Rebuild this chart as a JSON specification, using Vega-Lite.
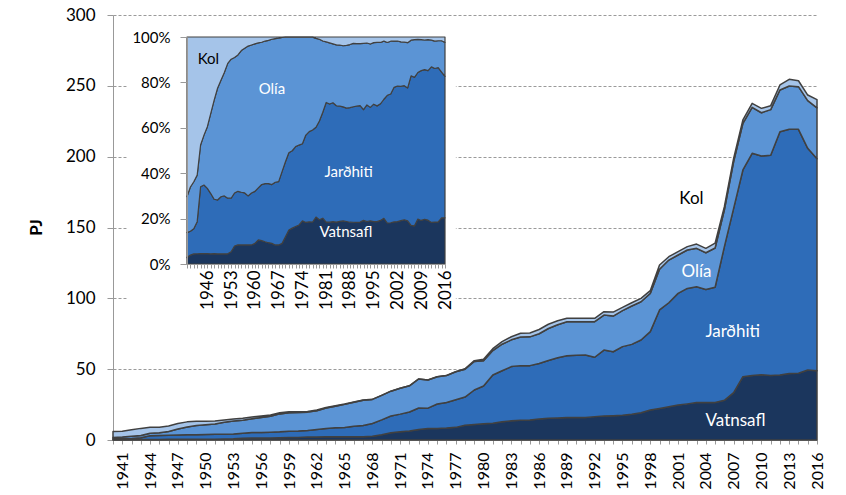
{
  "$schema": "https://vega.github.io/schema/vega-lite/v6.json",
  "width": 704,
  "height": 425,
  "autosize": {"type": "none"},
  "padding": {"left": 113, "top": 15, "right": 29, "bottom": 55},
  "background": "white",
  "config": {
    "view": {"stroke": null},
    "font": "Lato",
    "text": {"font": "Lato"},
    "axis": {"labelFont": "Lato", "titleFont": "Lato", "labelColor": "#000000", "titleColor": "#000000"}
  },
  "datasets": {
    "energy": [
      {"year":1940,"source":"Vatnsafl","pj":0.17},{"year":1940,"source":"Jarðhiti","pj":0.66},{"year":1940,"source":"Olía","pj":0.95},{"year":1940,"source":"Kol","pj":4.22},
      {"year":1941,"source":"Vatnsafl","pj":0.24},{"year":1941,"source":"Jarðhiti","pj":0.64},{"year":1941,"source":"Olía","pj":1.19},{"year":1941,"source":"Kol","pj":4.03},
      {"year":1942,"source":"Vatnsafl","pj":0.32},{"year":1942,"source":"Jarðhiti","pj":0.80},{"year":1942,"source":"Olía","pj":1.49},{"year":1942,"source":"Kol","pj":4.59},
      {"year":1943,"source":"Vatnsafl","pj":0.37},{"year":1943,"source":"Jarðhiti","pj":1.16},{"year":1943,"source":"Olía","pj":1.68},{"year":1943,"source":"Kol","pj":4.99},
      {"year":1944,"source":"Vatnsafl","pj":0.41},{"year":1944,"source":"Jarðhiti","pj":2.65},{"year":1944,"source":"Olía","pj":1.66},{"year":1944,"source":"Kol","pj":4.28},
      {"year":1945,"source":"Vatnsafl","pj":0.41},{"year":1945,"source":"Jarðhiti","pj":2.72},{"year":1945,"source":"Olía","pj":1.98},{"year":1945,"source":"Kol","pj":3.89},
      {"year":1946,"source":"Vatnsafl","pj":0.45},{"year":1946,"source":"Jarðhiti","pj":2.85},{"year":1946,"source":"Olía","pj":2.69},{"year":1946,"source":"Kol","pj":3.91},
      {"year":1947,"source":"Vatnsafl","pj":0.52},{"year":1947,"source":"Jarðhiti","pj":3.08},{"year":1947,"source":"Olía","pj":4.10},{"year":1947,"source":"Kol","pj":3.90},
      {"year":1948,"source":"Vatnsafl","pj":0.58},{"year":1948,"source":"Jarðhiti","pj":3.07},{"year":1948,"source":"Olía","pj":5.59},{"year":1948,"source":"Kol","pj":3.56},
      {"year":1949,"source":"Vatnsafl","pj":0.59},{"year":1949,"source":"Jarðhiti","pj":3.13},{"year":1949,"source":"Olía","pj":6.50},{"year":1949,"source":"Kol","pj":2.98},
      {"year":1950,"source":"Vatnsafl","pj":0.59},{"year":1950,"source":"Jarðhiti","pj":3.32},{"year":1950,"source":"Olía","pj":6.78},{"year":1950,"source":"Kol","pj":2.51},
      {"year":1951,"source":"Vatnsafl","pj":0.60},{"year":1951,"source":"Jarðhiti","pj":3.42},{"year":1951,"source":"Olía","pj":7.28},{"year":1951,"source":"Kol","pj":2.10},
      {"year":1952,"source":"Vatnsafl","pj":0.63},{"year":1952,"source":"Jarðhiti","pj":3.46},{"year":1952,"source":"Olía","pj":8.37},{"year":1952,"source":"Kol","pj":1.64},
      {"year":1953,"source":"Vatnsafl","pj":0.80},{"year":1953,"source":"Jarðhiti","pj":3.49},{"year":1953,"source":"Olía","pj":9.06},{"year":1953,"source":"Kol","pj":1.45},
      {"year":1954,"source":"Vatnsafl","pj":1.22},{"year":1954,"source":"Jarðhiti","pj":3.60},{"year":1954,"source":"Olía","pj":9.19},{"year":1954,"source":"Kol","pj":1.39},
      {"year":1955,"source":"Vatnsafl","pj":1.37},{"year":1955,"source":"Jarðhiti","pj":3.85},{"year":1955,"source":"Olía","pj":9.79},{"year":1955,"source":"Kol","pj":1.29},
      {"year":1956,"source":"Vatnsafl","pj":1.42},{"year":1956,"source":"Jarðhiti","pj":3.92},{"year":1956,"source":"Olía","pj":10.55},{"year":1956,"source":"Kol","pj":1.01},
      {"year":1957,"source":"Vatnsafl","pj":1.48},{"year":1957,"source":"Jarðhiti","pj":4.03},{"year":1957,"source":"Olía","pj":11.21},{"year":1957,"source":"Kol","pj":0.88},
      {"year":1958,"source":"Vatnsafl","pj":1.61},{"year":1958,"source":"Jarðhiti","pj":4.15},{"year":1958,"source":"Olía","pj":12.67},{"year":1958,"source":"Kol","pj":0.77},
      {"year":1959,"source":"Vatnsafl","pj":1.68},{"year":1959,"source":"Jarðhiti","pj":4.58},{"year":1959,"source":"Olía","pj":13.04},{"year":1959,"source":"Kol","pj":0.70},
      {"year":1960,"source":"Vatnsafl","pj":1.82},{"year":1960,"source":"Jarðhiti","pj":4.58},{"year":1960,"source":"Olía","pj":13.00},{"year":1960,"source":"Kol","pj":0.60},
      {"year":1961,"source":"Vatnsafl","pj":2.14},{"year":1961,"source":"Jarðhiti","pj":4.63},{"year":1961,"source":"Olía","pj":12.90},{"year":1961,"source":"Kol","pj":0.53},
      {"year":1962,"source":"Vatnsafl","pj":2.18},{"year":1962,"source":"Jarðhiti","pj":5.24},{"year":1962,"source":"Olía","pj":13.29},{"year":1962,"source":"Kol","pj":0.49},
      {"year":1963,"source":"Vatnsafl","pj":2.25},{"year":1963,"source":"Jarðhiti","pj":5.89},{"year":1963,"source":"Olía","pj":14.45},{"year":1963,"source":"Kol","pj":0.41},
      {"year":1964,"source":"Vatnsafl","pj":2.27},{"year":1964,"source":"Jarðhiti","pj":6.30},{"year":1964,"source":"Olía","pj":15.27},{"year":1964,"source":"Kol","pj":0.36},
      {"year":1965,"source":"Vatnsafl","pj":2.31},{"year":1965,"source":"Jarðhiti","pj":6.58},{"year":1965,"source":"Olía","pj":16.26},{"year":1965,"source":"Kol","pj":0.25},
      {"year":1966,"source":"Vatnsafl","pj":2.25},{"year":1966,"source":"Jarðhiti","pj":7.40},{"year":1966,"source":"Olía","pj":16.96},{"year":1966,"source":"Kol","pj":0.19},
      {"year":1967,"source":"Vatnsafl","pj":2.37},{"year":1967,"source":"Jarðhiti","pj":7.87},{"year":1967,"source":"Olía","pj":17.82},{"year":1967,"source":"Kol","pj":0.14},
      {"year":1968,"source":"Vatnsafl","pj":2.61},{"year":1968,"source":"Jarðhiti","pj":9.07},{"year":1968,"source":"Olía","pj":16.96},{"year":1968,"source":"Kol","pj":0.06},
      {"year":1969,"source":"Vatnsafl","pj":3.78},{"year":1969,"source":"Jarðhiti","pj":10.40},{"year":1969,"source":"Olía","pj":17.29},{"year":1969,"source":"Kol","pj":0.03},
      {"year":1970,"source":"Vatnsafl","pj":5.18},{"year":1970,"source":"Jarðhiti","pj":11.72},{"year":1970,"source":"Olía","pj":17.57},{"year":1970,"source":"Kol","pj":0.03},
      {"year":1971,"source":"Vatnsafl","pj":5.78},{"year":1971,"source":"Jarðhiti","pj":12.48},{"year":1971,"source":"Olía","pj":18.31},{"year":1971,"source":"Kol","pj":0.03},
      {"year":1972,"source":"Vatnsafl","pj":6.32},{"year":1972,"source":"Jarðhiti","pj":13.48},{"year":1972,"source":"Olía","pj":18.47},{"year":1972,"source":"Kol","pj":0.03},
      {"year":1973,"source":"Vatnsafl","pj":7.41},{"year":1973,"source":"Jarðhiti","pj":15.17},{"year":1973,"source":"Olía","pj":20.49},{"year":1973,"source":"Kol","pj":0.03},
      {"year":1974,"source":"Vatnsafl","pj":8.06},{"year":1974,"source":"Jarðhiti","pj":14.41},{"year":1974,"source":"Olía","pj":19.90},{"year":1974,"source":"Kol","pj":0.03},
      {"year":1975,"source":"Vatnsafl","pj":8.18},{"year":1975,"source":"Jarðhiti","pj":17.21},{"year":1975,"source":"Olía","pj":19.28},{"year":1975,"source":"Kol","pj":0.03},
      {"year":1976,"source":"Vatnsafl","pj":8.46},{"year":1976,"source":"Jarðhiti","pj":18.07},{"year":1976,"source":"Olía","pj":18.94},{"year":1976,"source":"Kol","pj":0.03},
      {"year":1977,"source":"Vatnsafl","pj":8.92},{"year":1977,"source":"Jarðhiti","pj":19.52},{"year":1977,"source":"Olía","pj":19.73},{"year":1977,"source":"Kol","pj":0.03},
      {"year":1978,"source":"Vatnsafl","pj":10.4},{"year":1978,"source":"Jarðhiti","pj":19.9},{"year":1978,"source":"Olía","pj":19.7},{"year":1978,"source":"Kol","pj":0.3},
      {"year":1979,"source":"Vatnsafl","pj":10.9},{"year":1979,"source":"Jarðhiti","pj":24.4},{"year":1979,"source":"Olía","pj":20.14},{"year":1979,"source":"Kol","pj":0.56},
      {"year":1980,"source":"Vatnsafl","pj":11.5},{"year":1980,"source":"Jarðhiti","pj":26.6},{"year":1980,"source":"Olía","pj":17.9},{"year":1980,"source":"Kol","pj":1.0},
      {"year":1981,"source":"Vatnsafl","pj":11.9},{"year":1981,"source":"Jarðhiti","pj":34.0},{"year":1981,"source":"Olía","pj":17.2},{"year":1981,"source":"Kol","pj":1.4},
      {"year":1982,"source":"Vatnsafl","pj":12.8},{"year":1982,"source":"Jarðhiti","pj":36.1},{"year":1982,"source":"Olía","pj":18.7},{"year":1982,"source":"Kol","pj":1.8},
      {"year":1983,"source":"Vatnsafl","pj":13.6},{"year":1983,"source":"Jarðhiti","pj":38.2},{"year":1983,"source":"Olía","pj":18.9},{"year":1983,"source":"Kol","pj":2.2},
      {"year":1984,"source":"Vatnsafl","pj":13.9},{"year":1984,"source":"Jarðhiti","pj":38.6},{"year":1984,"source":"Olía","pj":20.2},{"year":1984,"source":"Kol","pj":2.6},
      {"year":1985,"source":"Vatnsafl","pj":14.2},{"year":1985,"source":"Jarðhiti","pj":38.3},{"year":1985,"source":"Olía","pj":20.3},{"year":1985,"source":"Kol","pj":2.7},
      {"year":1986,"source":"Vatnsafl","pj":14.8},{"year":1986,"source":"Jarðhiti","pj":39.2},{"year":1986,"source":"Olía","pj":21.0},{"year":1986,"source":"Kol","pj":3.0},
      {"year":1987,"source":"Vatnsafl","pj":15.3},{"year":1987,"source":"Jarðhiti","pj":40.8},{"year":1987,"source":"Olía","pj":22.6},{"year":1987,"source":"Kol","pj":3.0},
      {"year":1988,"source":"Vatnsafl","pj":15.5},{"year":1988,"source":"Jarðhiti","pj":42.5},{"year":1988,"source":"Olía","pj":23.4},{"year":1988,"source":"Kol","pj":2.8},
      {"year":1989,"source":"Vatnsafl","pj":15.8},{"year":1989,"source":"Jarðhiti","pj":43.7},{"year":1989,"source":"Olía","pj":24.0},{"year":1989,"source":"Kol","pj":2.4},
      {"year":1990,"source":"Vatnsafl","pj":15.8},{"year":1990,"source":"Jarðhiti","pj":44.0},{"year":1990,"source":"Olía","pj":23.7},{"year":1990,"source":"Kol","pj":2.5},
      {"year":1991,"source":"Vatnsafl","pj":15.9},{"year":1991,"source":"Jarðhiti","pj":44.1},{"year":1991,"source":"Olía","pj":23.5},{"year":1991,"source":"Kol","pj":2.5},
      {"year":1992,"source":"Vatnsafl","pj":16.5},{"year":1992,"source":"Jarðhiti","pj":41.9},{"year":1992,"source":"Olía","pj":25.1},{"year":1992,"source":"Kol","pj":2.4},
      {"year":1993,"source":"Vatnsafl","pj":16.9},{"year":1993,"source":"Jarðhiti","pj":46.6},{"year":1993,"source":"Olía","pj":24.7},{"year":1993,"source":"Kol","pj":2.4},
      {"year":1994,"source":"Vatnsafl","pj":17.2},{"year":1994,"source":"Jarðhiti","pj":45.1},{"year":1994,"source":"Olía","pj":25.2},{"year":1994,"source":"Kol","pj":2.8},
      {"year":1995,"source":"Vatnsafl","pj":17.5},{"year":1995,"source":"Jarðhiti","pj":48.4},{"year":1995,"source":"Olía","pj":25.4},{"year":1995,"source":"Kol","pj":2.3},
      {"year":1996,"source":"Vatnsafl","pj":18.1},{"year":1996,"source":"Jarðhiti","pj":49.4},{"year":1996,"source":"Olía","pj":27.1},{"year":1996,"source":"Kol","pj":2.3},
      {"year":1997,"source":"Vatnsafl","pj":19.2},{"year":1997,"source":"Jarðhiti","pj":51.4},{"year":1997,"source":"Olía","pj":27.0},{"year":1997,"source":"Kol","pj":2.4},
      {"year":1998,"source":"Vatnsafl","pj":21.2},{"year":1998,"source":"Jarðhiti","pj":55.3},{"year":1998,"source":"Olía","pj":27.0},{"year":1998,"source":"Kol","pj":1.9},
      {"year":1999,"source":"Vatnsafl","pj":22.3},{"year":1999,"source":"Jarðhiti","pj":69.5},{"year":1999,"source":"Olía","pj":28.7},{"year":1999,"source":"Kol","pj":3.0},
      {"year":2000,"source":"Vatnsafl","pj":23.5},{"year":2000,"source":"Jarðhiti","pj":73.4},{"year":2000,"source":"Olía","pj":30.1},{"year":2000,"source":"Kol","pj":2.4},
      {"year":2001,"source":"Vatnsafl","pj":24.7},{"year":2001,"source":"Jarðhiti","pj":78.8},{"year":2001,"source":"Olía","pj":27.1},{"year":2001,"source":"Kol","pj":2.4},
      {"year":2002,"source":"Vatnsafl","pj":25.5},{"year":2002,"source":"Jarðhiti","pj":81.5},{"year":2002,"source":"Olía","pj":27.1},{"year":2002,"source":"Kol","pj":2.4},
      {"year":2003,"source":"Vatnsafl","pj":26.4},{"year":2003,"source":"Jarðhiti","pj":81.8},{"year":2003,"source":"Olía","pj":27.1},{"year":2003,"source":"Kol","pj":3.0},
      {"year":2004,"source":"Vatnsafl","pj":26.4},{"year":2004,"source":"Jarðhiti","pj":79.9},{"year":2004,"source":"Olía","pj":25.9},{"year":2004,"source":"Kol","pj":3.1},
      {"year":2005,"source":"Vatnsafl","pj":26.4},{"year":2005,"source":"Jarðhiti","pj":81.4},{"year":2005,"source":"Olía","pj":27.7},{"year":2005,"source":"Kol","pj":3.5},
      {"year":2006,"source":"Vatnsafl","pj":28.0},{"year":2006,"source":"Jarðhiti","pj":108.5},{"year":2006,"source":"Olía","pj":25.9},{"year":2006,"source":"Kol","pj":2.3},
      {"year":2007,"source":"Vatnsafl","pj":33.4},{"year":2007,"source":"Jarðhiti","pj":130.1},{"year":2007,"source":"Olía","pj":33.0},{"year":2007,"source":"Kol","pj":2.3},
      {"year":2008,"source":"Vatnsafl","pj":44.7},{"year":2008,"source":"Jarðhiti","pj":145.9},{"year":2008,"source":"Olía","pj":32.9},{"year":2008,"source":"Kol","pj":2.4},
      {"year":2009,"source":"Vatnsafl","pj":45.6},{"year":2009,"source":"Jarðhiti","pj":156.8},{"year":2009,"source":"Olía","pj":32.4},{"year":2009,"source":"Kol","pj":2.8},
      {"year":2010,"source":"Vatnsafl","pj":46.1},{"year":2010,"source":"Jarðhiti","pj":154.4},{"year":2010,"source":"Olía","pj":30.5},{"year":2010,"source":"Kol","pj":3.1},
      {"year":2011,"source":"Vatnsafl","pj":45.6},{"year":2011,"source":"Jarðhiti","pj":155.4},{"year":2011,"source":"Olía","pj":32.2},{"year":2011,"source":"Kol","pj":2.8},
      {"year":2012,"source":"Vatnsafl","pj":45.9},{"year":2012,"source":"Jarðhiti","pj":171.7},{"year":2012,"source":"Olía","pj":29.5},{"year":2012,"source":"Kol","pj":3.5},
      {"year":2013,"source":"Vatnsafl","pj":47.0},{"year":2013,"source":"Jarðhiti","pj":172.3},{"year":2013,"source":"Olía","pj":30.6},{"year":2013,"source":"Kol","pj":4.7},
      {"year":2014,"source":"Vatnsafl","pj":47.1},{"year":2014,"source":"Jarðhiti","pj":172.2},{"year":2014,"source":"Olía","pj":30.1},{"year":2014,"source":"Kol","pj":4.2},
      {"year":2015,"source":"Vatnsafl","pj":49.4},{"year":2015,"source":"Jarðhiti","pj":156.5},{"year":2015,"source":"Olía","pj":33.6},{"year":2015,"source":"Kol","pj":4.0},
      {"year":2016,"source":"Vatnsafl","pj":48.9},{"year":2016,"source":"Jarðhiti","pj":149.6},{"year":2016,"source":"Olía","pj":36.0},{"year":2016,"source":"Kol","pj":5.8}
    ]
  },
  "layer": [
    {
      "layer": [
        {
          "data": {"name": "energy"},
          "transform": [{"calculate": "indexof(['Vatnsafl','Jarðhiti','Olía','Kol'], datum.source)", "as": "stackOrder"}],
          "mark": {"type": "area", "stroke": "#404040", "strokeWidth": 1.5, "strokeJoin": "round"},
          "encoding": {
            "x": {
              "field": "year", "type": "quantitative",
              "scale": {"domain": [1940, 2016], "nice": false, "zero": false},
              "axis": {
                "title": null, "tickCount": 76, "format": "d",
                "labelExpr": "(datum.value - 1941) % 3 === 0 ? datum.label : ''",
                "labelAngle": -90, "labelFontSize": 16, "labelPadding": 8,
                "labelOverlap": false, "labelFlush": false, "labelBound": false,
                "tickSize": 4, "tickColor": "#999999", "domainColor": "#999999", "grid": false
              }
            },
            "y": {
              "field": "pj", "type": "quantitative", "stack": "zero",
              "scale": {"domain": [0, 300], "nice": false},
              "axis": {
                "title": "PJ", "titleFontSize": 17, "titleFontWeight": "bold",
                "titleX": -68, "titleY": 212, "titleAngle": -90, "titleBaseline": "bottom", "titleAlign": "center",
                "values": [0, 50, 100, 150, 200, 250, 300],
                "labelFontSize": 17, "labelPadding": 12, "tickSize": 6,
                "tickColor": "#999999", "domainColor": "#999999",
                "grid": true, "gridDash": [3, 2], "gridColor": "#9a9a9a"
              }
            },
            "order": {"field": "stackOrder", "type": "quantitative", "sort": "ascending"},
            "color": {
              "field": "source", "type": "nominal",
              "scale": {"domain": ["Vatnsafl", "Jarðhiti", "Olía", "Kol"], "range": ["#1b365d", "#2e6cb8", "#5b94d5", "#a5c4e9"]},
              "legend": null
            }
          }
        },
        {
          "data": {"values": [{}]},
          "mark": {"type": "text", "fontSize": 17, "color": "#000000", "align": "center", "baseline": "middle"},
          "encoding": {"x": {"datum": 2002.45, "type": "quantitative"}, "y": {"datum": 170.0, "type": "quantitative"}, "text": {"value": "Kol"}}
        },
        {
          "data": {"values": [{}]},
          "mark": {"type": "text", "fontSize": 17, "color": "#ffffff", "align": "center", "baseline": "middle"},
          "encoding": {"x": {"datum": 2003.0, "type": "quantitative"}, "y": {"datum": 118.5, "type": "quantitative"}, "text": {"value": "Olía"}}
        },
        {
          "data": {"values": [{}]},
          "mark": {"type": "text", "fontSize": 17, "color": "#ffffff", "align": "center", "baseline": "middle"},
          "encoding": {"x": {"datum": 2006.9, "type": "quantitative"}, "y": {"datum": 76.2, "type": "quantitative"}, "text": {"value": "Jarðhiti"}}
        },
        {
          "data": {"values": [{}]},
          "mark": {"type": "text", "fontSize": 17, "color": "#ffffff", "align": "center", "baseline": "middle"},
          "encoding": {"x": {"datum": 2007.2, "type": "quantitative"}, "y": {"datum": 13.6, "type": "quantitative"}, "text": {"value": "Vatnsafl"}}
        }
      ]
    },
    {
      "layer": [
        {
          "data": {"values": [{}]},
          "mark": {"type": "rect", "fill": "#ffffff", "stroke": null},
          "encoding": {
            "x": {"datum": 1922.3, "type": "quantitative"},
            "x2": {"datum": 2019.2},
            "y": {"datum": -0.357, "type": "quantitative"},
            "y2": {"datum": 1.075}
          }
        },
        {
          "data": {"name": "energy"},
          "transform": [{"calculate": "indexof(['Vatnsafl','Jarðhiti','Olía','Kol'], datum.source)", "as": "stackOrder"}],
          "mark": {"type": "area", "stroke": "#404040", "strokeWidth": 1.2, "strokeJoin": "round"},
          "encoding": {
            "x": {
              "field": "year", "type": "quantitative",
              "scale": {"domain": [1940, 2016], "nice": false, "zero": false, "range": [74, 332]},
              "axis": {
                "orient": "bottom", "offset": -176, "zindex": 1, "title": null,
                "tickCount": 76, "format": "d",
                "labelExpr": "(datum.value - 1946) % 7 === 0 ? datum.label : ''",
                "labelAngle": -90, "labelFontSize": 17, "labelPadding": 2,
                "labelOverlap": false, "labelFlush": false, "labelBound": false,
                "tickSize": 4, "tickColor": "#999999", "domainColor": "#999999", "grid": false
              }
            },
            "y": {
              "field": "pj", "type": "quantitative", "stack": "normalize",
              "scale": {"domain": [0, 1], "range": [249, 22], "nice": false},
              "axis": {
                "orient": "left", "offset": -74, "zindex": 1, "title": null,
                "values": [0, 0.2, 0.4, 0.6, 0.8, 1], "format": ".0%",
                "labelFontSize": 15, "labelPadding": 10, "tickSize": 7,
                "tickColor": "#999999", "domainColor": "#999999", "grid": false
              }
            },
            "order": {"field": "stackOrder", "type": "quantitative", "sort": "ascending"},
            "color": {
              "field": "source", "type": "nominal",
              "scale": {"domain": ["Vatnsafl", "Jarðhiti", "Olía", "Kol"], "range": ["#1b365d", "#2e6cb8", "#5b94d5", "#a5c4e9"]},
              "legend": null
            }
          }
        },
        {
          "data": {"values": [{}]},
          "mark": {"type": "text", "fontSize": 15, "color": "#000000", "align": "center", "baseline": "middle"},
          "encoding": {"x": {"datum": 1946.3, "type": "quantitative"}, "y": {"datum": 0.903, "type": "quantitative"}, "text": {"value": "Kol"}}
        },
        {
          "data": {"values": [{}]},
          "mark": {"type": "text", "fontSize": 15, "color": "#ffffff", "align": "center", "baseline": "middle"},
          "encoding": {"x": {"datum": 1965.0, "type": "quantitative"}, "y": {"datum": 0.771, "type": "quantitative"}, "text": {"value": "Olía"}}
        },
        {
          "data": {"values": [{}]},
          "mark": {"type": "text", "fontSize": 15, "color": "#ffffff", "align": "center", "baseline": "middle"},
          "encoding": {"x": {"datum": 1987.6, "type": "quantitative"}, "y": {"datum": 0.407, "type": "quantitative"}, "text": {"value": "Jarðhiti"}}
        },
        {
          "data": {"values": [{}]},
          "mark": {"type": "text", "fontSize": 15, "color": "#ffffff", "align": "center", "baseline": "middle"},
          "encoding": {"x": {"datum": 1986.8, "type": "quantitative"}, "y": {"datum": 0.143, "type": "quantitative"}, "text": {"value": "Vatnsafl"}}
        }
      ]
    }
  ],
  "resolve": {"scale": {"x": "independent", "y": "independent"}, "axis": {"x": "independent", "y": "independent"}}
}
